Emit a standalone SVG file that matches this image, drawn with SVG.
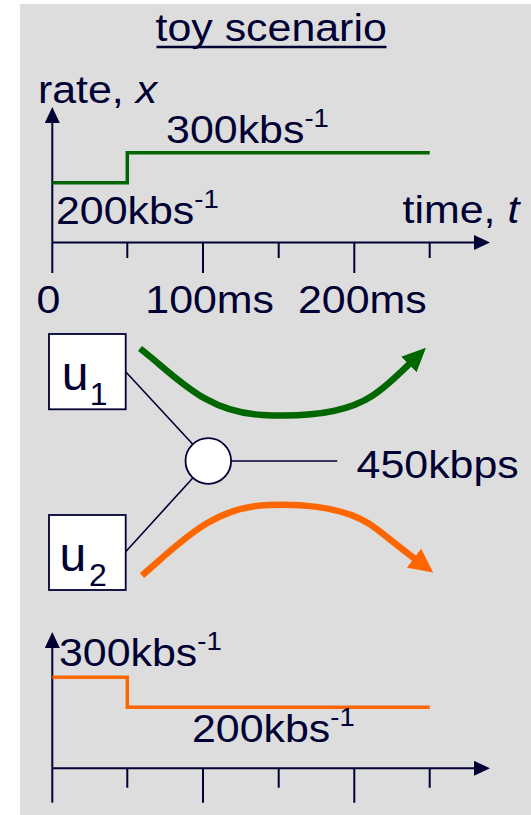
<svg xmlns="http://www.w3.org/2000/svg" width="531" height="815" viewBox="0 0 531 815">
<defs>
<style>
.t{font-family:"Liberation Sans",Arial,sans-serif;font-size:39px;fill:#000033}
.sup{font-size:25px}
.u{font-family:"Liberation Sans",Arial,sans-serif;font-size:48px;fill:#000033}
.sub{font-size:32px}
.ax{stroke:#000033;stroke-width:2;fill:none}
.ln{stroke:#000033;stroke-width:1.6;fill:none}
.box{fill:#ffffff;stroke:#000033;stroke-width:1.8}
</style>
<marker id="axh" markerUnits="userSpaceOnUse" viewBox="0 0 16 15" markerWidth="16" markerHeight="15" refX="1" refY="7.5" orient="auto">
<path d="M0,0 L16,7.5 L0,15 z" fill="#000033"/>
</marker>
<marker id="gh" markerUnits="userSpaceOnUse" viewBox="0 0 24 22" markerWidth="24" markerHeight="22" refX="1" refY="11" orient="auto">
<path d="M0,0 L24,11 L0,22 z" fill="#006600"/>
</marker>
<marker id="oh" markerUnits="userSpaceOnUse" viewBox="0 0 24 24" markerWidth="24" markerHeight="24" refX="1" refY="12" orient="auto">
<path d="M0,0 L24,12 L0,24 z" fill="#FF6600"/>
</marker>
</defs>
<rect x="0" y="0" width="531" height="815" fill="#ffffff"/>
<rect x="20" y="4" width="511" height="811" fill="#DDDDDD"/>

<!-- title -->
<g id="title">
<text class="t" transform="scale(1.1 1)" x="141.4" y="41">toy scenario</text>
<line x1="156.5" y1="47" x2="386.5" y2="47" stroke="#000033" stroke-width="2.5"/>
</g>

<!-- top chart -->
<g id="chart-top">
<line class="ax" x1="52.3" y1="273" x2="52.3" y2="122" marker-end="url(#axh)"/>
<line class="ax" x1="52.3" y1="242.5" x2="475" y2="242.5" marker-end="url(#axh)"/>
<path class="ax" d="M127.3,242.5V258 M203,242.5V273 M278.7,242.5V258 M354.3,242.5V273 M429.7,242.5V258"/>
<polyline points="52.3,182.7 127.3,182.7 127.3,152.7 429.7,152.7" fill="none" stroke="#006600" stroke-width="3.5"/>
<g transform="scale(1.1 1)">
<text class="t" x="34.5" y="102.7">rate, <tspan font-style="italic">x</tspan></text>
<text class="t" x="151" y="143.5">300kbs<tspan class="sup" dy="-16">-1</tspan></text>
<text class="t" x="50.9" y="224">200kbs<tspan class="sup" dy="-16">-1</tspan></text>
<text class="t" x="366" y="223.3">time, <tspan font-style="italic">t</tspan></text>
<text class="t" x="33.2" y="313">0</text>
<text class="t" y="313"><tspan x="132.1">100ms</tspan><tspan x="270.9">200ms</tspan></text>
</g>
</g>

<!-- connectors -->
<g id="connectors">
<line class="ln" x1="125.7" y1="371.7" x2="208.3" y2="461"/>
<line class="ln" x1="125.7" y1="551.7" x2="208.3" y2="461"/>
<line class="ln" x1="208.3" y1="461" x2="337.3" y2="461"/>
<path d="M140,348.5 C178,378 205,412 262,415 C318,418 352,409 372,396 C386,387 397,376 409.5,363.8" fill="none" stroke="#006600" stroke-width="6.5" marker-end="url(#gh)"/>
<path d="M142,575.5 C180,543 212,507 268,505 C320,503 356,512 378,530 C392,541 403,550 414.7,558.7" fill="none" stroke="#FF6600" stroke-width="6.5" marker-end="url(#oh)"/>
</g>

<!-- nodes -->
<g id="u1">
<rect class="box" x="49" y="334" width="76.7" height="75.3"/>
<text class="u" x="61.8" y="389.5">u<tspan class="sub" x="89.8" dy="15.5">1</tspan></text>
</g>
<g id="u2">
<rect class="box" x="49" y="515" width="76.7" height="75"/>
<text class="u" x="59.5" y="570.5">u<tspan class="sub" x="89" dy="15.5">2</tspan></text>
</g>
<g id="hub">
<circle cx="208.3" cy="461" r="22.8" fill="#ffffff" stroke="#000033" stroke-width="1.8"/>
</g>
<g id="link-label">
<text class="t" transform="scale(1.1 1)" x="324.2" y="478.3">450kbps</text>
</g>

<!-- bottom chart -->
<g id="chart-bottom">
<line class="ax" x1="52.3" y1="802.7" x2="52.3" y2="647" marker-end="url(#axh)"/>
<line class="ax" x1="52.3" y1="768.3" x2="475" y2="768.3" marker-end="url(#axh)"/>
<path class="ax" d="M127.3,768.3V787.7 M203,768.3V802.7 M278.7,768.3V787.7 M354.3,768.3V802.7 M429.7,768.3V787.7"/>
<polyline points="52.3,677.3 127.3,677.3 127.3,707.3 429.7,707.3" fill="none" stroke="#FF6600" stroke-width="3.5"/>
<g transform="scale(1.1 1)">
<text class="t" x="53.6" y="665.7">300kbs<tspan class="sup" dy="-16">-1</tspan></text>
<text class="t" x="174.5" y="741.7">200kbs<tspan class="sup" dy="-16">-1</tspan></text>
</g>
</g>
</svg>
